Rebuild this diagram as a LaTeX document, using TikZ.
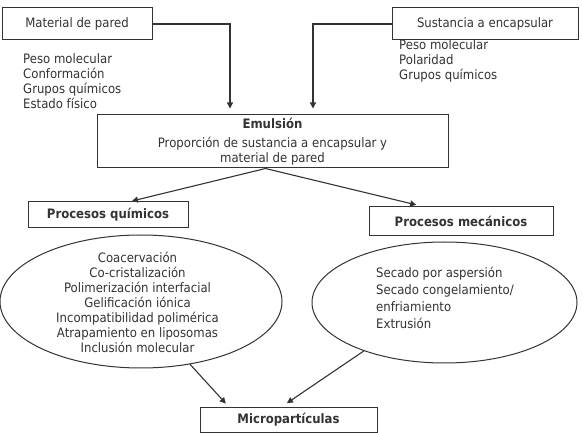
\documentclass[tikz,border=0pt]{standalone}
\usepackage{fontspec}
\setmainfont{DejaVu Sans}[FakeStretch=0.9]
\usetikzlibrary{shapes.geometric,arrows.meta}
\definecolor{ink}{gray}{0.2}
\begin{document}
\begin{tikzpicture}[x=1pt,y=-1pt,
  every node/.style={text=ink},
  txt/.style={font=\fontsize{13}{15}\selectfont},
  boxnode/.style={draw=ink,line width=1pt,rectangle,inner sep=0pt,txt},
  listnode/.style={txt,align=left,inner sep=0pt,anchor=north west},
  ovalnode/.style={draw=ink,line width=1pt,ellipse,inner sep=0pt},
  arr/.style={draw=ink,line width=1.1pt,-{Triangle[length=6pt,width=6pt]}}]
\useasboundingbox (0,0) rectangle (582,433);
% boxes
\node[boxnode,minimum width=150,minimum height=32] (mat) at (77,24) {Material de pared};
\node[boxnode,minimum width=186,minimum height=32] (sus) at (485,24) {Sustancia a encapsular};
\node[listnode] (matl) at (23,53) {Peso molecular\\Conformación\\Grupos químicos\\Estado físico};
\node[listnode] (susl) at (399,39.5) {Peso molecular\\Polaridad\\Grupos químicos};
\node[boxnode,minimum width=351,minimum height=53,align=center] (emu) at (272.5,141.5)
  {\textbf{Emulsión}\\[4pt]Proporción de sustancia a encapsular y\\material de pared};
\node[boxnode,minimum width=160,minimum height=26] (pq) at (108,215) {\textbf{Procesos químicos}};
\node[boxnode,minimum width=184,minimum height=29] (pm) at (461,221.5) {\textbf{Procesos mecánicos}};
\node[ovalnode,minimum width=282,minimum height=133] (elL) at (141,301.5) {};
\node[txt,align=center,inner sep=0pt] (elLt) at (137.5,302)
  {Coacervación\\Co-cristalización\\Polimerización interfacial\\Gelificación iónica\\Incompatibilidad polimérica\\Atrapamiento en liposomas\\Inclusión molecular};
\node[ovalnode,minimum width=265,minimum height=121] (elR) at (444.5,302.5) {};
\node[listnode,font=\fontsize{13}{17}\selectfont] (elRt) at (376,266.5)
  {Secado por aspersión\\Secado congelamiento/\\enfriamiento\\Extrusión};
\node[boxnode,minimum width=177,minimum height=25] (mic) at (288.5,419.5) {\textbf{Micropartículas}};
% connectors
\draw[arr,shorten >=6pt] (mat.east) -| ([xshift=-42.5]emu.north);
\draw[arr,shorten >=6pt] (sus.west) -| ([xshift=40.5]emu.north);
\draw[arr,shorten >=2pt] ([xshift=-7]emu.south) -- ([xshift=22]pq.north);
\draw[arr,shorten >=7pt] ([xshift=-7]emu.south) -- ([xshift=-38]pm.north);
\draw[arr,shorten >=4pt] (elL.-52) -- ([xshift=-60]mic.north);
\draw[arr,shorten >=6pt] (elR.-149) -- ([xshift=-6.5]mic.north);
\end{tikzpicture}
\end{document}
